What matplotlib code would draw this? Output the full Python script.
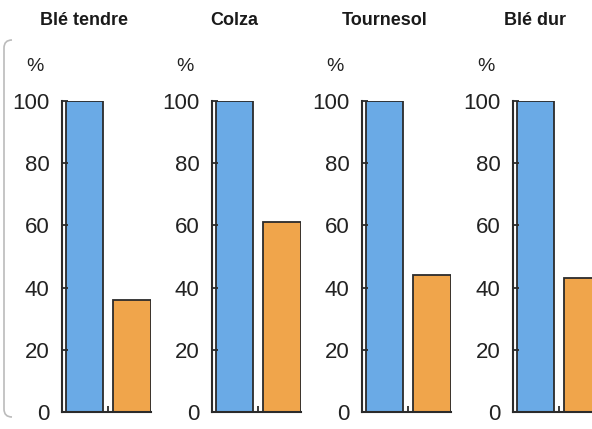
import matplotlib
matplotlib.use('Agg')
import matplotlib.pyplot as plt
from matplotlib.path import Path
from matplotlib.patches import PathPatch

plt.rcParams['font.family'] = ['Liberation Sans', 'DejaVu Sans']

# data
crops = ['Blé tendre', 'Colza', 'Tournesol', 'Blé dur']
blue_vals = [100, 100, 100, 100]
orange_vals = [36, 61, 44, 43]
yticks = [0, 20, 40, 60, 80, 100]

blue = '#6aaae6'
orange = '#f0a54b'
edge = '#2b2b2b'

W, H = 592, 429
fig = plt.figure(figsize=(W / 100, H / 100), dpi=100)

# left edge of the rounded frame (scan of a boxed figure)
verts = [(12, 389), (4, 389), (4, 381), (4, 20), (4, 12), (12, 12)]
codes = [Path.MOVETO, Path.CURVE3, Path.CURVE3, Path.LINETO, Path.CURVE3, Path.CURVE3]
frame = PathPatch(Path([(x / W, y / H) for x, y in verts], codes),
                  transform=fig.transFigure, fill=False, edgecolor='#bbbbbb', lw=1.2)
fig.patches.append(frame)

lefts = [62, 212, 362, 513]
for i, name in enumerate(crops):
    ax = fig.add_axes([lefts[i] / W, 17 / H, 89 / W, 311 / H])
    ax.bar([0, 1], [blue_vals[i], orange_vals[i]], width=0.78,
           color=[blue, orange], edgecolor=edge, linewidth=1.3)
    ax.set_xlim(-0.47, 1.40)
    ax.set_ylim(0, 100)
    for s in ['top', 'right']:
        ax.spines[s].set_visible(False)
    for s in ['left', 'bottom']:
        ax.spines[s].set_linewidth(1.5)
        ax.spines[s].set_color(edge)
    ax.set_yticks(yticks)
    ax.set_xticks([0.5])
    ax.set_xticklabels([''])
    ax.tick_params(axis='y', direction='in', length=4, width=1.3, color=edge,
                   labelsize=16, labelcolor='#222222', pad=9)
    ax.tick_params(axis='x', direction='in', length=4, width=1.3, color=edge)
    ax.text(0, 126, name, ha='center', va='center', fontsize=13,
            fontweight='bold', color='#1a1a1a', clip_on=False)
    ax.text(-1.04, 111, '%', ha='center', va='center', fontsize=14,
            color='#222222', clip_on=False)

plt.savefig('out.png', dpi=100)
